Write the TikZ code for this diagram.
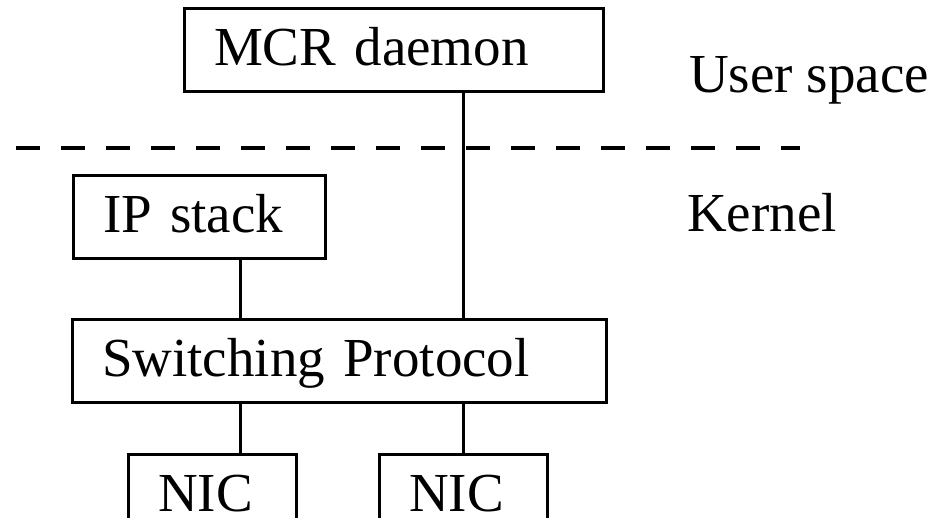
\documentclass[tikz,border=0pt]{standalone}
\usepackage{fontspec}
\setmainfont{Liberation Serif}
\usepackage{tikz}
\usetikzlibrary{positioning,calc}

\begin{document}
\begin{tikzpicture}[
  x=1pt, y=-1pt,
  box/.style={draw, line width=3pt, minimum height=83pt, inner xsep=30pt, align=left,
    text height=40pt, text depth=10pt, font=\fontsize{55}{66}\selectfont},
  lbl/.style={inner sep=0pt, anchor=base west, font=\fontsize{55}{66}\selectfont},
  e/.style={line width=3pt},
  sep/.style={line width=3.5pt, dash pattern=on 24pt off 21pt}
]
  \useasboundingbox (0,0) rectangle (946,518);
  \node[box, text width=359pt] (mcr) at (393.5,50.5) {MCR daemon};
  \node[box, text width=192pt] (ip) at (199,217.5) {IP stack};
  \node[box, text width=474pt] (sw) at (339,361.5) {Switching Protocol};
  \node[box, text width=108pt] (nic1) at (212,496.5) {NIC};
  \node[box, text width=108pt] (nic2) at (463,496.5) {NIC};
  \node[lbl] (user) at (689,93) {User space};
  \node[lbl] (kern) at (687,232) {Kernel};
  \coordinate (lx) at (240,0);
  \coordinate (rx) at (463,0);
  \coordinate (d1) at (16,148);
  \coordinate (d2) at (800,148);
  \draw[sep] (d1) -- (d2);
  \draw[e] (mcr.south -| rx) -- (sw.north -| rx);
  \draw[e] (ip.south -| lx) -- (sw.north -| lx);
  \draw[e] (sw.south -| lx) -- (nic1.north -| lx);
  \draw[e] (sw.south -| rx) -- (nic2.north);
\end{tikzpicture}
\end{document}
